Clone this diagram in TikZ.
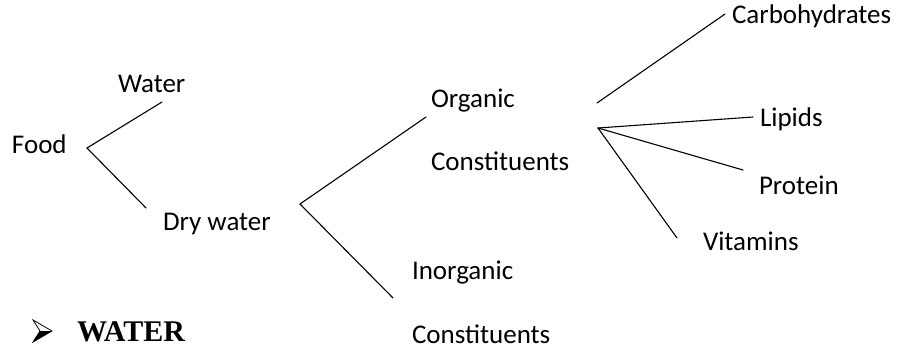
\documentclass[tikz,border=0pt]{standalone}
\usepackage{fontspec}
\setmainfont{Carlito}
\newfontfamily\headfont{Liberation Serif}
\begin{document}
\begin{tikzpicture}[x=1pt,y=-1pt,
  lbl/.style={anchor=base west,inner sep=0pt,outer sep=0pt,font=\fontsize{27}{32}\selectfont},
  conn/.style={line width=1.1pt,line cap=round}]
\useasboundingbox (0,0) rectangle (898,349);
% labels
\node[lbl] (food) at (12,153) {Food};
\node[lbl] (water) at (118,92.5) {Water};
\node[lbl] (dry) at (163,230.5) {Dry water};
\node[lbl] (org) at (431,107.5) {Organic};
\node[lbl] (orgc) at (431,170) {Constituents};
\node[lbl] (inorg) at (412,279.5) {Inorganic};
\node[lbl] (inorgc) at (412,343) {Constituents};
\node[lbl] (carb) at (732,23) {Carbohydrates};
\node[lbl] (lip) at (760,126) {Lipids};
\node[lbl] (prot) at (759,194) {Protein};
\node[lbl] (vit) at (703,250) {Vitamins};
\node[anchor=base west,inner sep=0pt,font=\headfont\bfseries\fontsize{30}{34}\selectfont] (head) at (77,341) {WATER};
% bullet arrowhead
\coordinate (bt) at (52,331);
\coordinate (bu) at (33,320);
\coordinate (bn) at (40,331);
\coordinate (bl) at (33,342);
\fill[black] (bn) -- (bt) -- (bl) -- cycle;
\draw[line width=0.8pt,line join=miter] (bu) -- (bt) -- (bl) -- (bn) -- cycle;
% connector end points
\coordinate (v1) at (87,148);
\coordinate (w1) at (162,102);
\coordinate (d1) at (146,208);
\coordinate (v2) at (300,204);
\coordinate (o1) at (426,117);
\coordinate (i1) at (393,298);
\coordinate (c0) at (597,103);
\coordinate (c1) at (725,14);
\coordinate (v3) at (598,128);
\coordinate (l1) at (753,117);
\coordinate (p1) at (743,170);
\coordinate (m1) at (677,238);
% connectors
\draw[conn] (w1) -- (v1) -- (d1);
\draw[conn] (o1) -- (v2) -- (i1);
\draw[conn] (c0) -- (c1);
\draw[conn] (v3) -- (l1);
\draw[conn] (v3) -- (p1);
\draw[conn] (v3) -- (m1);
\end{tikzpicture}
\end{document}
